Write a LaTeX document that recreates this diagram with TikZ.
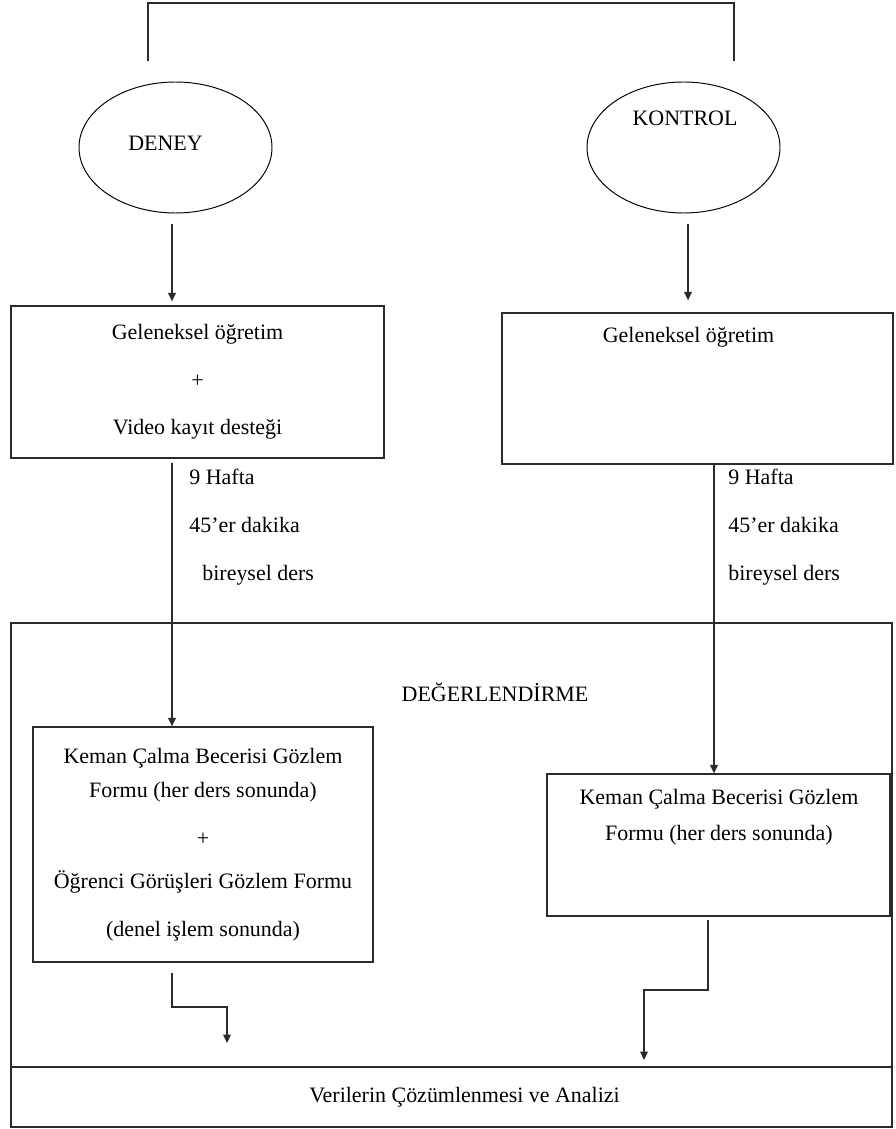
\documentclass[tikz,border=0pt]{standalone}
\usepackage{fontspec}
\setmainfont{Liberation Serif}
\usepackage{tikz}
\usetikzlibrary{
  arrows.meta,
  positioning,
  shapes.geometric
}
\definecolor{flowInk}{HTML}{2B2B2B}
\tikzset{
  flowFont/.style={font=\fontsize{12.5}{15}\selectfont},
  groupEllipse/.style={
    draw=black,
    ellipse,
    line width=0.55pt,
    minimum width=3.86cm,
    minimum height=2.62cm,
    inner sep=0pt
  },
  flowBox/.style={
    draw=flowInk,
    line width=0.75pt,
    align=center,
    flowFont,
    inner sep=0pt
  },
  flowText/.style={flowFont, align=center, inner sep=1pt},
  plainLine/.style={flowInk, line width=0.75pt},
  flowArrow/.style={-{Triangle[length=4.8pt, width=4.4pt]}, line width=0.7pt, flowInk}
}
\begin{document}
\begin{tikzpicture}[x=1cm,y=1cm,
  durLabel/.style={flowFont, align=left, anchor=north west, inner sep=0pt}]
  \useasboundingbox (0,0) rectangle (17.9,-22.58);

  \coordinate (colD) at (3.44,0);
  \coordinate (colK) at (13.76,0);
  \coordinate (colK2) at (14.28,0);

  \coordinate (bracketL) at (2.96,-1.22);
  \coordinate (bracketR) at (14.68,-1.22);
  \coordinate (bracketTop) at (0,-0.06);
  \draw[plainLine] (bracketL) |- (bracketTop -| bracketR) -- (bracketR);

  \node[groupEllipse] (deney) at (3.51,-2.95) {};
  \node[flowText] (deneyText) at (3.31,-2.86) {DENEY};
  \node[groupEllipse] (kontrol) at (13.67,-2.95) {};
  \node[flowText] (kontrolText) at (13.7,-2.36) {KONTROL};

  \node[flowBox, minimum width=7.46cm, minimum height=3.04cm] (ogretimD) at (3.95,-7.64)
    {Geleneksel öğretim\\[11.9pt] +\\[11.9pt] Video kayıt desteği};
  \node[flowBox, minimum width=7.82cm, minimum height=3.02cm] (ogretimK) at (13.95,-7.77) {};
  \node[flowText] (ogretimKText) at (13.77,-6.74) {Geleneksel öğretim};

  \draw[flowArrow, shorten <=0.22cm, shorten >=0.08cm] (deney.south -| colD) -- (ogretimD.north -| colD);
  \draw[flowArrow, shorten <=0.22cm, shorten >=0.24cm] (kontrol.south -| colK) -- (ogretimK.north -| colK);

  \node[durLabel] (sureD) at (3.78,-9.38)
    {9 Hafta\\[12.2pt] 45’er dakika\\[12.2pt] \hspace*{0.26cm}bireysel ders};
  \node[durLabel] (sureK) at (14.56,-9.38)
    {9 Hafta\\[12.2pt] 45’er dakika\\[12.2pt] bireysel ders};

  \node[flowBox, minimum width=17.62cm, minimum height=8.88cm] (degerlendirme) at (9.03,-16.9) {};
  \node[flowText] (degerText) at (9.9,-13.84) {DEĞERLENDİRME};

  \node[flowBox, minimum width=6.8cm, minimum height=4.7cm] (formD) at (4.06,-16.89)
    {Keman Çalma Becerisi Gözlem\\[4.8pt] Formu (her ders sonunda)\\[12.2pt] +\\[9.4pt]
     Öğrenci Görüşleri Gözlem Formu\\[12.2pt] (denel işlem sonunda)};
  \node[flowBox, minimum width=6.86cm, minimum height=2.84cm] (formK) at (14.37,-16.9) {};
  \node[flowText] (formKText) at (14.38,-16.34)
    {Keman Çalma Becerisi Gözlem\\[5.4pt] Formu (her ders sonunda)};

  \draw[flowArrow, shorten <=0.08cm] (ogretimD.south -| colD) -- (formD.north -| colD);
  \draw[flowArrow] (ogretimK.south -| colK2) -- (formK.north -| colK2);

  \node[flowBox, minimum width=17.62cm, minimum height=1.2cm] (analiz) at (9.03,-21.94)
    {\hspace*{0.52cm}Verilerin Çözümlenmesi ve Analizi};

  \coordinate (bendD) at (3.44,-20.14);
  \coordinate (endD) at (4.54,-20.86);
  \coordinate (bendK) at (14.16,-19.8);
  \coordinate (endK) at (12.88,-21.2);
  \draw[flowArrow, shorten <=0.2cm] (formD.south -| bendD) -- (bendD) -| (endD);
  \draw[flowArrow, shorten <=0.06cm] (formK.south -| bendK) -- (bendK) -| (endK);
\end{tikzpicture}
\end{document}
